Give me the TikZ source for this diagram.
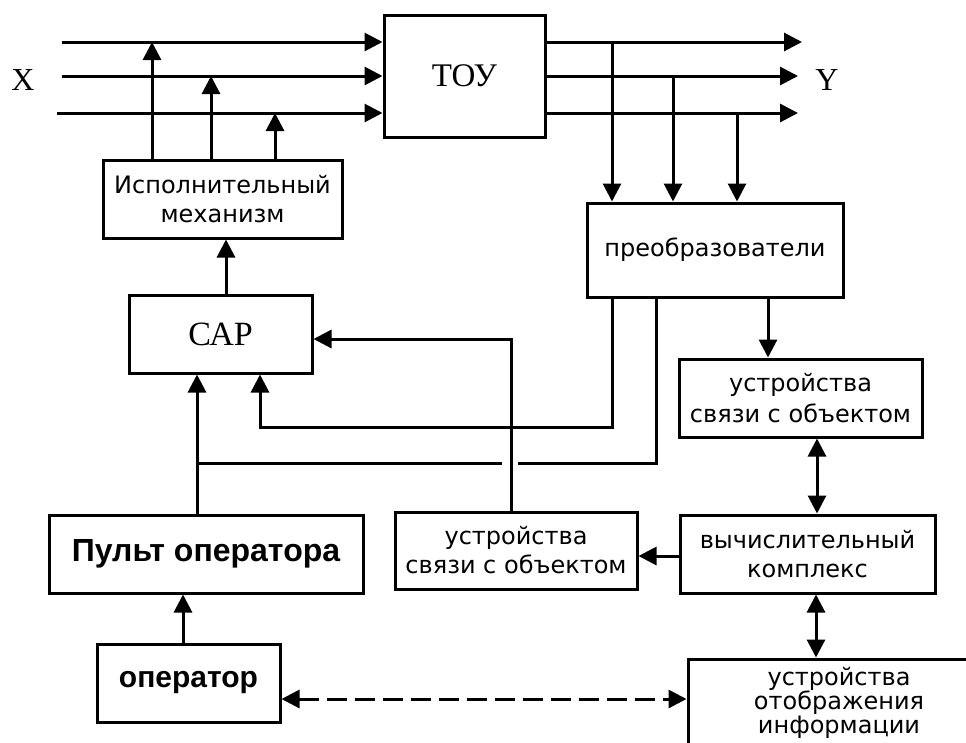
\documentclass[tikz,border=0pt]{standalone}
\usepackage{fontspec}
\setmainfont{DejaVu Sans}
\newfontfamily\timesfont{Liberation Serif}
\newfontfamily\arialfont{Liberation Sans}
\usetikzlibrary{arrows.meta}

\begin{document}
\begin{tikzpicture}[x=1pt,y=-1pt,line width=3pt,
  blok/.style={draw,rectangle,inner sep=0pt,align=center,font=\fontsize{24}{29}\selectfont},
  arr/.style={-{Triangle[length=18pt,width=18pt]}},
  darr/.style={{Triangle[length=18pt,width=18pt]}-{Triangle[length=18pt,width=18pt]}},
  lbl/.style={font=\timesfont\fontsize{32}{32}\selectfont}]
\useasboundingbox (0,0) rectangle (966,742);
\clip (0,0) rectangle (966,742);

% blocks
\node[blok,minimum width=161pt,minimum height=122pt,font=\timesfont\fontsize{33}{33}\selectfont] (tou) at (464.5,76) {ТОУ};
\node[blok,minimum width=239pt,minimum height=78pt] (isp) at (222.5,199) {Исполнительный\\механизм};
\node[blok,minimum width=183pt,minimum height=78pt,font=\timesfont\fontsize{34}{34}\selectfont] (sar) at (220.5,334) {САР};
\node[blok,minimum width=256pt,minimum height=94pt] (preob) at (715,250) {преобразователи};
\node[blok,minimum width=243pt,minimum height=78pt,font=\fontsize{24}{31}\selectfont] (usv1) at (800.5,398) {устройства\\связи с объектом};
\node[blok,minimum width=242pt,minimum height=77pt] (usv2) at (516,550.5) {устройства\\связи с объектом};
\node[blok,minimum width=255pt,minimum height=78pt] (vych) at (807.5,554) {вычислительный\\комплекс};
\node[blok,minimum width=314pt,minimum height=78pt,font=\arialfont\bfseries\fontsize{32}{32}\selectfont] (pult) at (206,554) {Пульт оператора};
\node[blok,minimum width=183pt,minimum height=78pt,font=\arialfont\bfseries\fontsize{30}{30}\selectfont] (oper) at (188.5,683) {оператор};
\node[blok,minimum width=302pt,minimum height=88pt,font=\fontsize{24}{24}\selectfont] (otobr) at (839,703) {устройства\\отображения\\информации};

% inputs and outputs
\coordinate (in1) at (62,42);
\coordinate (in2) at (62,76);
\coordinate (in3) at (57,113);
\coordinate (out1) at (802,42);
\coordinate (out2) at (798,76);
\coordinate (out3) at (798,113);
\node[lbl] (xlab) at (23,80) {X};
\node[lbl] (ylab) at (827,80) {Y};

\draw[arr] (in1) -- (in1 -| tou.west);
\draw[arr] (in2) -- (in2 -| tou.west);
\draw[arr] (in3) -- (in3 -| tou.west);
\draw[arr] (out1 -| tou.east) -- (out1);
\draw[arr] (out2 -| tou.east) -- (out2);
\draw[arr] (out3 -| tou.east) -- (out3);

% actuator
\draw[arr] (isp.north -| 152,0) -- (in1 -| 152,0);
\draw[arr] (isp.north -| 211,0) -- (in2 -| 211,0);
\draw[arr] (isp.north -| 275,0) -- (in3 -| 275,0);
\draw[arr] (sar.north -| 226,0) -- (isp.south -| 226,0);

% measurement
\draw[arr] (out1 -| 612,0) -- (preob.north -| 612,0);
\draw[arr] (out2 -| 673,0) -- (preob.north -| 673,0);
\draw[arr] (out3 -| 737,0) -- (preob.north -| 737,0);
\draw[arr] (preob.south -| 768,0) -- (usv1.north -| 768,0);
\draw[darr] (usv1.south -| 817,0) -- (vych.north -| 817,0);
\draw[darr] (vych.south -| 816,0) -- (otobr.north -| 816,0);
\draw[arr] (vych.west |- 0,556) -- (usv2.east |- 0,556);

% feedback to CAP
\draw[arr] (usv2.north -| 511,0) |- (sar.east |- 0,339);
\draw[arr] (preob.south -| 612,0) |- (260,427) -- (sar.south -| 260,0);
\draw (preob.south -| 656,0) |- (518,463);
\draw (502,463) -- (197,463);
\draw[arr] (pult.north -| 197,0) -- (sar.south -| 197,0);
\draw[arr] (oper.north -| 183,0) -- (pult.south -| 183,0);
\draw[darr,dash pattern=on 20pt off 8pt] (oper.east |- 0,699) -- (otobr.west |- 0,699);

\end{tikzpicture}
\end{document}
